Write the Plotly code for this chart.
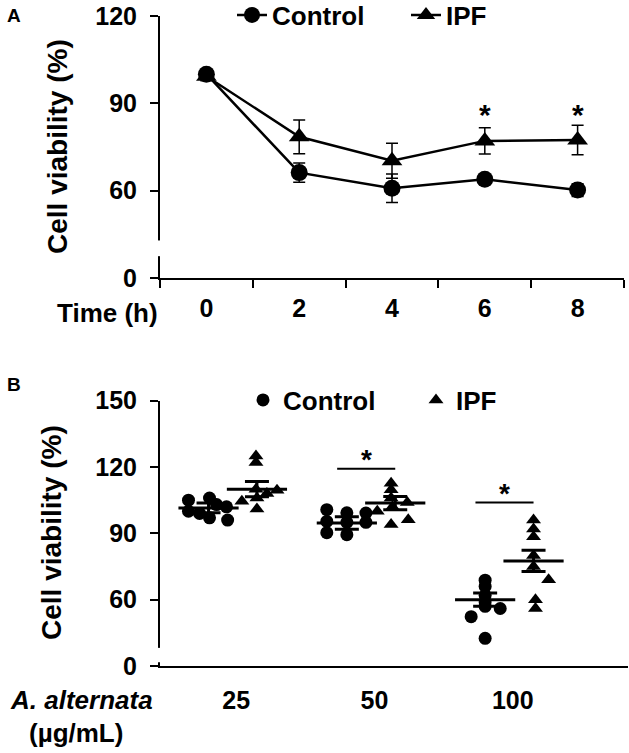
import plotly.graph_objects as go

# ---- panel A: viability over time (mean +/- SEM) ----
time_h = ["0", "2", "4", "6", "8"]
ctrl_time = [100.0, 66.2, 60.8, 63.9, 60.2]
ctrl_time_sem = [1.5, 3.3, 4.9, 1.5, 2.2]
ipf_time = [99.3, 78.5, 70.3, 77.1, 77.4]
ipf_time_sem = [1.5, 5.8, 6.0, 4.5, 5.1]
sig_time = ["6", "8"]
sig_time_level = [88, 88]

# ---- panel B: viability vs A. alternata dose (individual wells) ----
dose_labels = ["25", "50", "100"]
ctrl_25 = [105, 100, 106, 97, 102, 96, 103, 99]
ctrl_50 = [100.7, 95.4, 90.3, 99.3, 95, 89.4, 99.2, 95]
ctrl_100 = [68.8, 66, 62, 57, 56, 52.3, 42.5, 59]
ipf_25 = [125, 122, 104.5, 110, 109.5, 106, 101, 108]
ipf_50 = [112.7, 109.7, 106, 100, 102, 94, 96.2, 104]
ipf_100 = [96, 92, 88.5, 80, 75, 69, 60, 56]
ctrl_mean = [101.5, 94.7, 60.0]
ctrl_sem = [2.2, 2.8, 3.0]
ipf_mean = [110.0, 103.7, 77.5]
ipf_sem = [3.5, 3.0, 4.8]
sig_dose = ["50", "100"]
sig_dose_level = [119.2, 103.9]

# horizontal scatter of the dots inside each group (fraction of category width)
jit_ctrl = [
    [-0.145, -0.145, 0.007, 0.007, 0.13, 0.138, 0.058, -0.065],
    [-0.145, -0.145, -0.145, 0, 0, 0, 0.138, 0.138],
    [0, 0, 0, 0, 0.109, -0.101, 0, 0],
]
jit_ipf = [
    [-0.007, -0.007, -0.109, -0.007, 0.145, 0, 0, 0.072],
    [-0.03, -0.03, -0.03, -0.13, -0.02, -0.03, 0.094, 0.087],
    [0, 0, 0, 0, 0, 0.109, 0.014, 0.014],
]
CTRL_OFF, IPF_OFF = -0.2, 0.15

W, H = 629, 753
FONT = "Liberation Sans, Arial, sans-serif"
BLACK = "black"


def px(x):
    return x / W


def py(y):
    return 1 - y / H


fig = go.Figure()

# panel A traces
fig.add_trace(go.Scatter(
    x=time_h, y=ctrl_time, name="Control", mode="lines+markers",
    line=dict(color=BLACK, width=2.5),
    marker=dict(symbol="circle", size=17, color=BLACK),
    error_y=dict(type="data", array=ctrl_time_sem, color=BLACK, thickness=1.5, width=6),
    xaxis="x", yaxis="y", legend="legend"))
fig.add_trace(go.Scatter(
    x=time_h, y=ipf_time, name="IPF", mode="lines+markers",
    line=dict(color=BLACK, width=2.5),
    marker=dict(symbol="triangle-up", size=18, color=BLACK),
    error_y=dict(type="data", array=ipf_time_sem, color=BLACK, thickness=1.5, width=6),
    xaxis="x", yaxis="y", legend="legend"))

# panel B dots
ctrl_groups = [ctrl_25, ctrl_50, ctrl_100]
ipf_groups = [ipf_25, ipf_50, ipf_100]
cx, cy, ix, iy = [], [], [], []
for i in range(len(dose_labels)):
    for v, j in zip(ctrl_groups[i], jit_ctrl[i]):
        cx.append(i + 1 + CTRL_OFF + j)
        cy.append(v)
    for v, j in zip(ipf_groups[i], jit_ipf[i]):
        ix.append(i + 1 + IPF_OFF + j)
        iy.append(v)

fig.add_trace(go.Scatter(
    x=cx, y=cy, name="Control", mode="markers",
    marker=dict(symbol="circle", size=13, color=BLACK),
    xaxis="x2", yaxis="y2", legend="legend2"))
fig.add_trace(go.Scatter(
    x=ix, y=iy, name="IPF", mode="markers",
    marker=dict(symbol="triangle-up", size=13, color=BLACK),
    xaxis="x2", yaxis="y2", legend="legend2"))

# mean +/- SEM bars
pos = list(range(1, len(dose_labels) + 1))
for off, m, s in [(CTRL_OFF, ctrl_mean, ctrl_sem), (IPF_OFF, ipf_mean, ipf_sem)]:
    fig.add_trace(go.Scatter(
        x=[p + off for p in pos], y=m, mode="markers", showlegend=False,
        marker=dict(symbol="line-ew", size=43, line=dict(color=BLACK, width=3)),
        error_y=dict(type="data", array=s, color=BLACK, thickness=3, width=12),
        xaxis="x2", yaxis="y2", hoverinfo="skip"))

axis_common = dict(showline=True, linecolor=BLACK, linewidth=2, showgrid=False,
                   zeroline=False, ticks="outside", ticklen=8, tickwidth=2,
                   tickcolor=BLACK, ticklabeloverflow="allow",
                   tickfont=dict(family=FONT, size=25, color=BLACK, weight="bold"))

fig.update_layout(
    width=W, height=H, margin=dict(l=0, r=0, t=0, b=0, autoexpand=False),
    paper_bgcolor="white", plot_bgcolor="white",
    xaxis=dict(axis_common, domain=[px(160), px(624)], anchor="y",
               type="category", tickson="boundaries", range=[-0.5, 4.5],
               ticklabelstandoff=7),
    yaxis=dict(axis_common, domain=[py(278), py(16)], anchor="x",
               range=[30, 120], tickvals=[30, 60, 90, 120],
               ticktext=["0", "60", "90", "120"], ticklabelstandoff=8),
    xaxis2=dict(axis_common, domain=[px(160), px(628)], anchor="y2",
                range=[0.449, 3.833], tickvals=pos, ticktext=dose_labels,
                ticks="", ticklabelstandoff=11),
    yaxis2=dict(axis_common, domain=[py(666), py(400.7)], anchor="x2",
                range=[30, 150], tickvals=[30, 60, 90, 120, 150],
                ticktext=["0", "60", "90", "120", "150"], ticklabelstandoff=8),
    legend=dict(orientation="h", x=px(232), xanchor="left", y=py(15), yanchor="middle",
                font=dict(family=FONT, size=26, color=BLACK, weight="bold"),
                bgcolor="rgba(0,0,0,0)", itemwidth=30, entrywidth=129),
    legend2=dict(orientation="h", x=px(243), xanchor="left", y=py(400), yanchor="middle",
                 font=dict(family=FONT, size=26, color=BLACK, weight="bold"),
                 bgcolor="rgba(0,0,0,0)", itemwidth=30, entrywidth=128),
    showlegend=True,
)

# axis breaks
fig.add_shape(type="rect", xref="paper", yref="y", x0=px(154), x1=px(168), y0=37.5, y1=42.9,
              fillcolor="white", line_width=0, layer="above")
fig.add_shape(type="rect", xref="paper", yref="y2", x0=px(154), x1=px(168), y0=31.7, y1=38.2,
              fillcolor="white", line_width=0, layer="above")

# significance marks
for t, lv in zip(sig_time, sig_time_level):
    fig.add_annotation(x=time_h.index(t), y=lv, xref="x", yref="y", text="*",
                       showarrow=False, yanchor="middle", yshift=-5,
                       font=dict(family=FONT, size=30, color=BLACK, weight="bold"))
for d, lv in zip(sig_dose, sig_dose_level):
    k = dose_labels.index(d) + 1
    fig.add_shape(type="line", xref="x2", yref="y2", x0=k - 0.27, x1=k + 0.15, y0=lv, y1=lv,
                  line=dict(color=BLACK, width=2))
    fig.add_annotation(x=k - 0.06, y=lv, xref="x2", yref="y2", text="*", showarrow=False,
                       yanchor="bottom", yshift=-8,
                       font=dict(family=FONT, size=28, color=BLACK, weight="bold"))

# titles and labels
txt = dict(family=FONT, color=BLACK, weight="bold")


def label(x, y, text, size, angle=0, xanchor="center"):
    fig.add_annotation(x=px(x), y=py(y), xref="paper", yref="paper", text=text,
                       textangle=angle, showarrow=False, xanchor=xanchor, yanchor="middle",
                       font=dict(txt, size=size))


label(57, 147, "Cell viability (%)", 28, angle=-90)
label(51, 533, "Cell viability (%)", 28, angle=-90)
label(160, 313, "Time (h)", 26, xanchor="right")
label(81, 700, "<i>A. alternata</i>", 26)
label(76, 733, "(µg/mL)", 26)
label(14, 16, "A", 19)
label(14, 384, "B", 19)

fig.write_html("out.html", config={"displayModeBar": False},
               post_script="document.body.style.margin='0';")
